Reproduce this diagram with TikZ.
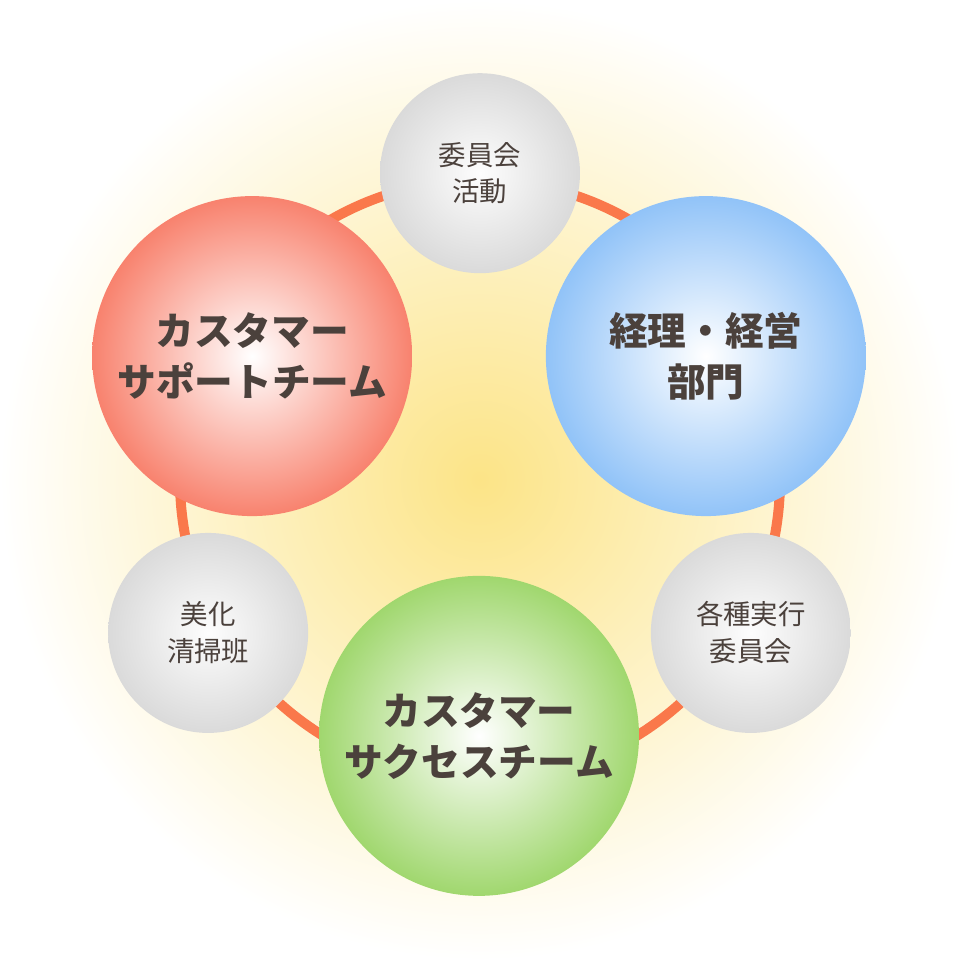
\documentclass[tikz,border=0pt]{standalone}
\usepackage{fontspec}
\setmainfont{Noto Sans CJK JP}
\usetikzlibrary{positioning}
\definecolor{ringcolor}{RGB}{250,120,75}
\definecolor{textcolor}{RGB}{75,65,60}
\definecolor{supportcolor}{RGB}{248,130,110}
\definecolor{accountcolor}{RGB}{145,195,248}
\definecolor{successcolor}{RGB}{160,215,110}
\definecolor{minorcolor}{RGB}{218,218,218}
\definecolor{glowcolor}{RGB}{252,228,135}
\begin{document}
\begin{tikzpicture}[
    x=0.01cm, y=-0.01cm,
    team/.style={circle, minimum size=3.2cm, inner sep=0pt, align=center, text=textcolor, font=\bfseries\fontsize{11}{14.5}\selectfont},
    minor/.style={circle, minimum size=2cm, inner sep=0pt, align=center, text=textcolor, font=\fontsize{7.8}{10.5}\selectfont, shading=radial, inner color=white!95!minorcolor, outer color=minorcolor}
]
    % Background
    \fill[white] (0,0) rectangle (960,960);
    \shade[inner color=glowcolor, outer color=white] (480,480) circle[radius=4.8cm];
    \useasboundingbox (0,0) rectangle (960,960);
    % Ring
    \node[circle, minimum size=6cm, draw=ringcolor, line width=0.1cm] (ring) at (480,480) {};
    % Main teams
    \node[team, shading=radial, inner color=white, outer color=supportcolor] (support) at (252,356) {カスタマー\\サポートチーム};
    \node[team, shading=radial, inner color=white, outer color=accountcolor] (account) at (706,356) {経理・経営\\部門};
    \node[team, shading=radial, inner color=white, outer color=successcolor] (success) at (479,736) {カスタマー\\サクセスチーム};
    % Minor activities
    \node[minor] (committee) at (480,173) {委員会\\活動};
    \node[minor] (executive) at (751,633) {各種実行\\委員会};
    \node[minor] (cleaning) at (208,633) {美化\\清掃班};
\end{tikzpicture}
\end{document}
